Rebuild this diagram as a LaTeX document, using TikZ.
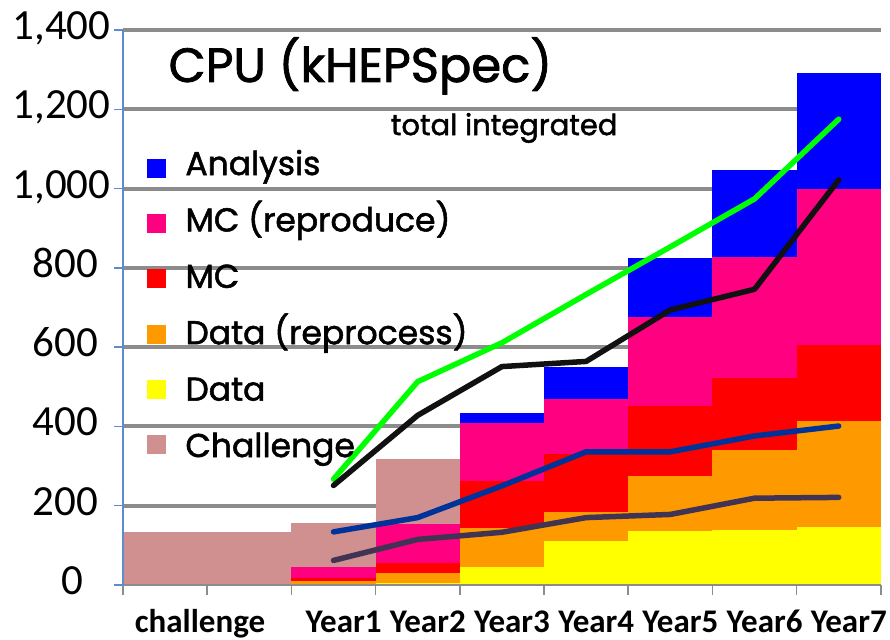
\documentclass[tikz,border=0pt]{standalone}
\usepackage{fontspec}
\setmainfont{Carlito}
\newfontfamily\comicfont[FakeBold=1.6]{Poppins}
\usepackage{tikz}
\usetikzlibrary{arrows.meta, positioning, calc}
\usepackage{xcolor}
\definecolor{challrose}{HTML}{D09090}
\definecolor{anablue}{HTML}{0000FF}
\definecolor{mcpink}{HTML}{FF0080}
\definecolor{mcred}{HTML}{FF0000}
\definecolor{reproorange}{HTML}{FF9900}
\definecolor{datayellow}{HTML}{FFFF00}
\definecolor{totgreen}{HTML}{00FF00}
\definecolor{totblack}{HTML}{111111}
\definecolor{linblue}{HTML}{003399}
\definecolor{linpurple}{HTML}{403354}
\definecolor{gridgray}{HTML}{8C8C8C}
\definecolor{axisblue}{HTML}{5B8CD0}

\begin{document}
\begin{tikzpicture}[x=84.2pt, y=0.3964pt,
    grid/.style={draw=gridgray, line width=4pt},
    trend/.style={line width=5.5pt, line join=round, line cap=round},
    ytick/.style={font=\fontsize{43}{43}\selectfont, anchor=base},
    xtick/.style={font=\fontsize{33}{33}\selectfont\bfseries, anchor=base},
    keybox/.style={minimum size=19pt, inner sep=0pt},
    keytext/.style={font=\comicfont\fontsize{33}{33}\selectfont, anchor=base west}
  ]
  \fill[white] (-1.4608,-138.75) rectangle (9.1093,1475.8);
  \useasboundingbox (-1.4608,-138.75) rectangle (9.1093,1475.8);

  % grid
  \foreach \v in {200,400,...,1400}
    \draw[grid] (0,\v) -- (9,\v);

  % stacked bars
  \fill[challrose] (0,0) rectangle (2,133);
  \foreach \x/\d/\dr/\mc/\mcr/\an/\ch in {2/2/10/18/45/45/157, 3/4/30/55/153/155/317,
      4/46/143/263/408/433/433, 5/111/184/330/469/550/550, 6/137/274/452/677/826/826,
      7/139/341/523/828/1047/1047, 8/146/414/605/999/1291/1291} {
    \fill[challrose] (\x,0) rectangle ++(1,\ch);
    \fill[anablue] (\x,0) rectangle ++(1,\an);
    \fill[mcpink] (\x,0) rectangle ++(1,\mcr);
    \fill[mcred] (\x,0) rectangle ++(1,\mc);
    \fill[reproorange] (\x,0) rectangle ++(1,\dr);
    \fill[datayellow] (\x,0) rectangle ++(1,\d);
  }

  % axes
  \draw[gridgray, line width=2pt] (0,0) -- (9,0);
  \foreach \x in {0,...,9}
    \draw[gridgray, line width=1.5pt] (\x,0) -- (\x,-24);
  \draw[axisblue, line width=1.5pt] (0,0) -- (0,1400);
  \foreach \v in {0,200,...,1400}
    \draw[axisblue, line width=1.5pt] (0,\v) -- (-0.107,\v);

  % totals
  \draw[trend, totgreen] plot coordinates {(2.5,267) (3.5,513) (4.5,611) (5.5,733)
      (6.5,853) (7.5,974) (8.5,1175)};
  \draw[trend, totblack] plot coordinates {(2.5,251) (3.5,428) (4.5,551) (5.5,564)
      (6.5,694) (7.5,746) (8.5,1022)};
  \draw[trend, linblue] plot coordinates {(2.5,134) (3.5,170) (4.5,250) (5.5,336)
      (6.5,336) (7.5,376) (8.5,401)};
  \draw[trend, linpurple] plot coordinates {(2.5,62) (3.5,115) (4.5,133) (5.5,170)
      (6.5,178) (7.5,219) (8.5,221)};

  % tick labels
  \foreach \v/\t/\c in {0/0/-0.606, 200/200/-0.683, 400/400/-0.683, 600/600/-0.683,
      800/800/-0.683, 1000/{1,000}/-0.730, 1200/{1,200}/-0.730, 1400/{1,400}/-0.730}
    \node[ytick] (ylab\v) at (\c,\v-24) {\t};
  \node[xtick] (xchall) at (0.915,-118.6) {challenge};
  \foreach \i in {1,...,7}
    \node[xtick] (xyear\i) at (\i+1.62,-118.6) {Year\i};

  % titles
  \node[font=\comicfont\fontsize{48}{48}\selectfont, anchor=base west] (title)
    at (0.50,1269) {CPU (kHEPSpec)};
  \node[font=\comicfont\fontsize{29}{29}\selectfont, anchor=base west] (subtitle)
    at (3.14,1135) {total integrated};

  % legend
  \foreach \k/\col/\txt in {0/anablue/Analysis, 1/mcpink/MC (reproduce), 2/mcred/MC,
      3/reproorange/Data (reprocess), 4/datayellow/Data, 5/challrose/Challenge} {
    \node[keybox, fill=\col] (key\k) at (0.398,1050.7-139.3*\k) {};
    \node[keytext] (keytxt\k) at (0.70,1034.3-142.3*\k) {\txt};
  }
\end{tikzpicture}
\end{document}
